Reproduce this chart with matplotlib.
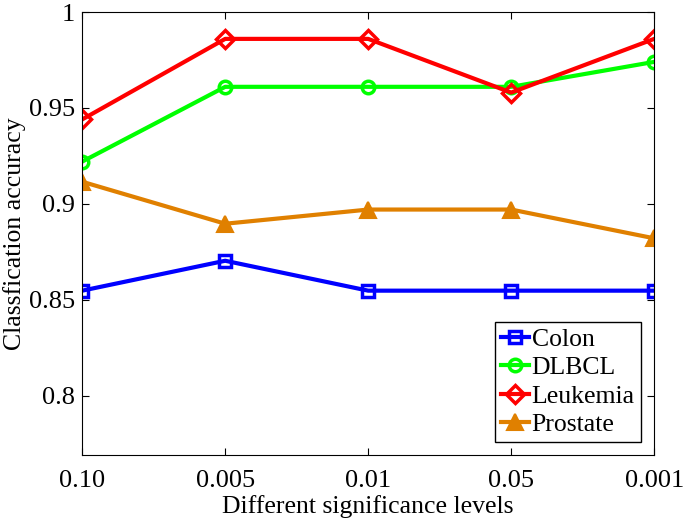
import numpy as np
import matplotlib
matplotlib.use('Agg')
import matplotlib.pyplot as plt

plt.rcParams['font.family'] = ['Liberation Serif', 'DejaVu Serif']

niveles = ['0.10', '0.005', '0.01', '0.05', '0.001']
colon = [0.8547, 0.8703, 0.8547, 0.8547, 0.8547]
dlbcl = [0.922, 0.961, 0.961, 0.961, 0.974]
leukemia = [0.944, 0.986, 0.986, 0.958, 0.986]
prostate = [0.9115, 0.8896, 0.897, 0.897, 0.882]

x = np.arange(len(niveles))

fig, ax = plt.subplots(figsize=(6.85, 5.23), dpi=100)
fig.subplots_adjust(left=0.12, right=0.955, top=0.977, bottom=0.13)

ax.plot(x, colon, '-s', color='#0000ff', lw=3, ms=8, mfc='none', mew=2.5, label='Colon')
ax.plot(x, dlbcl, '-o', color='#00ff00', lw=3, ms=9, mfc='none', mew=2.5, label='DLBCL')
ax.plot(x, leukemia, '-D', color='#ff0000', lw=3, ms=9, mfc='none', mew=2.5, label='Leukemia')
ax.plot(x, prostate, '-^', color='#e08000', lw=3, ms=11, mfc='#e08000', mew=1.5, label='Prostate')

ax.set_xlim(0, len(niveles) - 1)
ax.set_ylim(0.769, 1.0)
ax.set_xticks(x)
ax.set_xticklabels(niveles)
ax.set_yticks([0.8, 0.85, 0.9, 0.95, 1.0])
ax.set_yticklabels(['0.8', '0.85', '0.9', '0.95', '1'])
ax.tick_params(direction='in', top=True, right=True, labelsize=19, length=5)
ax.tick_params(axis='x', pad=11)
ax.tick_params(axis='y', pad=5)

ax.set_xlabel('Different significance levels', fontsize=18.5, labelpad=2)
ax.set_ylabel('Classfication accuracy', fontsize=18.5, labelpad=2)

ax.legend(loc='lower right', fontsize=18.5, handlelength=1.1, handletextpad=0.1,
          borderpad=0.25, labelspacing=0.2, fancybox=False, edgecolor='black',
          framealpha=1, borderaxespad=0.5)

plt.savefig('out.png')
